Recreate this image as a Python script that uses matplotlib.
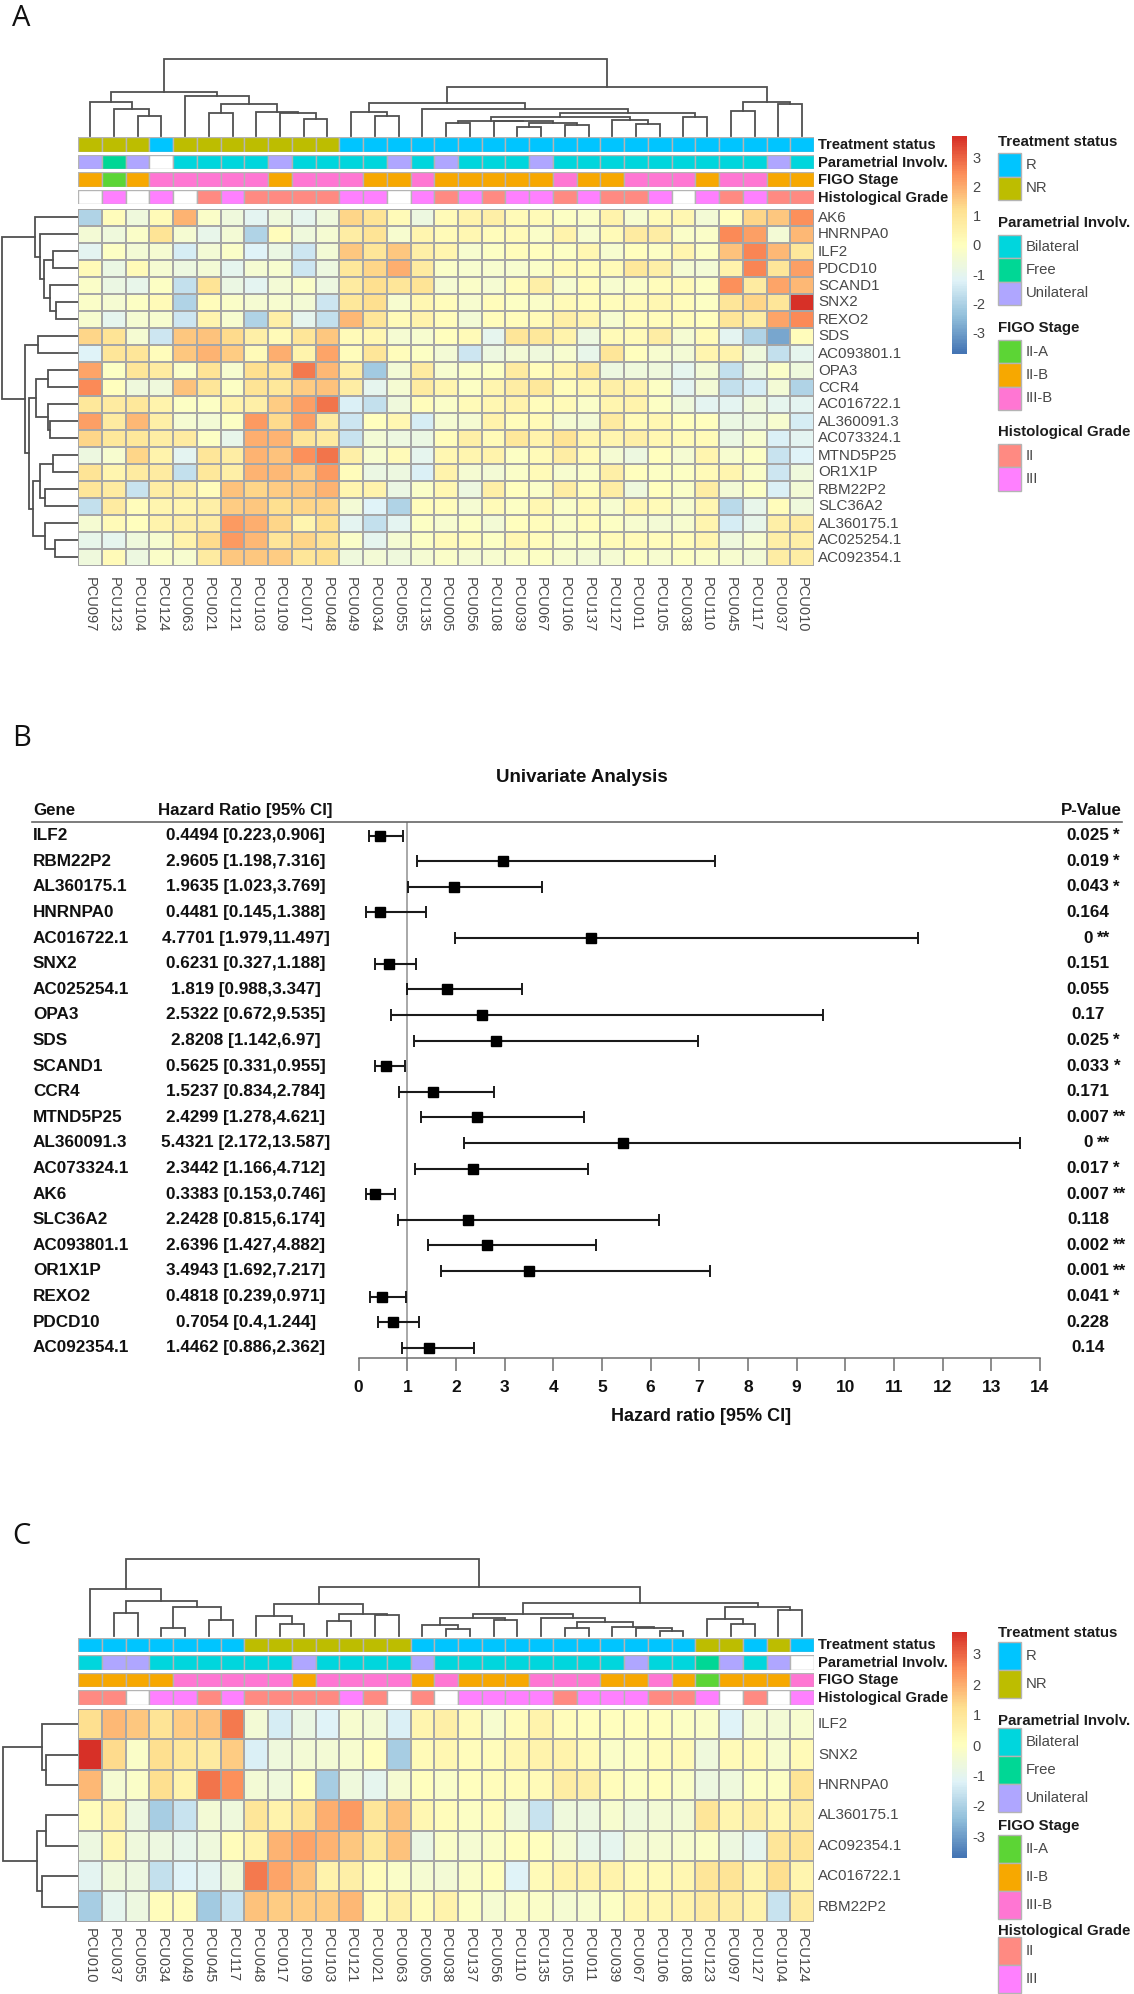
import numpy as np
import matplotlib
matplotlib.use("Agg")
import matplotlib.pyplot as plt
from matplotlib.colors import LinearSegmentedColormap, ListedColormap
from matplotlib.patches import Rectangle
from matplotlib.lines import Line2D

plt.rcParams['font.family'] = ['Liberation Sans', 'DejaVu Sans']
W, H = 1134, 1994

# ---------- Panel A data ----------
samples_a = "PCU097 PCU123 PCU104 PCU124 PCU063 PCU021 PCU121 PCU103 PCU109 PCU017 PCU048 PCU049 PCU034 PCU055 PCU135 PCU005 PCU056 PCU108 PCU039 PCU067 PCU106 PCU137 PCU127 PCU011 PCU105 PCU038 PCU110 PCU045 PCU117 PCU037 PCU010".split()
genes_a = ["AK6","HNRNPA0","ILF2","PDCD10","SCAND1","SNX2","REXO2","SDS","AC093801.1","OPA3","CCR4","AC016722.1","AL360091.3","AC073324.1","MTND5P25","OR1X1P","RBM22P2","SLC36A2","AL360175.1","AC025254.1","AC092354.1"]
heat_a = [
[-2.0,0.1,-0.6,0.2,1.9,-0.2,-0.6,-1.1,-0.6,-1.0,-0.6,1.4,1.1,0.2,-0.7,0.2,0.5,0.6,0.2,0.2,-0.1,-0.2,0.5,-0.3,0.2,0.3,-0.5,0.0,1.4,1.6,2.4],
[-0.5,-0.6,-0.2,1.1,-0.4,-0.9,-0.5,-2.0,0.1,-0.6,-0.4,0.7,1.1,-0.3,0.4,0.2,0.3,0.1,0.2,-0.2,0.5,-0.3,0.2,0.8,0.7,-0.2,-0.2,2.5,2.2,-0.5,1.8],
[-1.1,-0.1,-0.5,-0.4,-1.4,-0.5,-0.2,-1.2,-0.8,-1.5,-0.5,1.6,1.0,1.6,0.6,0.4,-0.3,-0.1,0.1,0.0,-0.1,0.3,-0.3,0.0,-0.1,0.4,-0.1,1.7,2.6,1.8,0.9],
[0.2,-0.8,0.2,-0.4,-0.7,-0.5,-1.0,-0.4,-0.3,-1.5,-0.7,0.9,1.4,2.0,0.8,-0.2,-0.3,-0.3,-0.3,-0.2,0.2,0.1,0.2,0.9,0.6,-0.4,-0.5,0.5,2.6,1.0,2.2],
[-0.2,-0.8,-0.9,-0.1,-1.7,1.1,-0.8,-1.1,-0.5,-0.2,-0.7,0.8,1.2,1.0,1.1,-0.4,-0.2,-0.4,0.1,0.6,-0.3,0.1,-0.3,-0.2,0.1,0.2,-0.1,2.4,0.8,2.1,1.8],
[-0.2,-0.4,-0.1,0.2,-2.0,0.1,-0.2,-0.4,-0.3,-0.5,-1.5,0.9,1.2,-0.3,0.3,0.1,-0.3,0.1,-0.1,-0.2,0.2,0.1,0.1,0.2,0.3,0.1,-0.1,1.0,1.4,1.0,3.7],
[-0.3,-1.0,-0.4,-0.3,-1.5,0.4,-0.3,-2.0,0.6,-1.0,-1.7,1.8,1.0,0.2,0.5,0.1,-0.5,0.1,0.1,0.2,0.6,0.4,-0.3,0.1,0.1,0.1,0.0,1.0,0.7,2.1,2.5],
[1.4,1.1,-0.4,-1.5,1.6,1.7,1.3,0.6,0.2,1.0,1.6,0.2,0.3,-0.4,-0.3,0.0,0.2,-1.0,1.0,0.9,0.5,-0.7,0.2,0.2,0.7,-0.4,0.2,-1.1,-2.0,-2.9,0.1],
[-1.2,1.0,1.0,0.1,1.6,1.9,1.5,0.2,2.0,0.5,2.1,0.1,1.0,0.1,-0.1,-0.5,-1.5,-0.7,-0.5,-0.6,-0.3,-0.9,1.0,0.0,-0.3,-0.5,0.4,0.5,-0.6,-1.7,-1.0],
[2.1,-0.1,1.0,0.8,-0.2,1.1,-0.3,1.2,1.1,2.7,1.8,0.7,-2.2,-0.5,0.8,-0.3,-0.2,-0.1,0.8,0.1,0.4,0.9,-0.7,-0.6,-0.6,-1.0,-0.5,-1.7,-0.7,-0.2,-0.6],
[2.5,0.0,-0.6,-0.6,1.7,1.0,-0.1,1.1,0.9,1.5,1.7,0.7,-1.0,-0.4,0.8,0.4,-0.1,0.4,0.7,0.9,0.1,0.3,0.6,0.5,-0.1,-1.1,-0.5,-1.7,-1.4,-0.5,-2.0],
[0.9,0.8,0.9,0.5,-0.1,-0.1,0.5,0.6,1.5,2.2,2.8,-1.3,-1.7,-0.6,0.1,-0.2,0.2,0.3,0.5,0.1,0.2,-0.2,0.4,0.5,-0.1,-0.6,-1.1,-1.1,-0.6,-1.0,-1.1],
[2.2,0.8,1.8,0.6,-0.4,-0.5,-0.1,2.3,1.3,2.2,0.8,-1.5,0.0,0.3,-1.4,-0.4,-0.4,0.5,0.1,0.2,-0.4,-0.5,0.8,0.2,0.3,0.0,0.0,-0.8,-0.7,-0.3,-1.4],
[1.4,0.9,0.9,0.7,0.8,-0.1,-0.9,2.0,1.9,1.0,0.8,-1.6,-0.5,-0.7,-0.8,0.1,0.6,0.2,0.9,0.5,1.1,0.4,0.4,0.6,0.3,0.2,0.2,-0.8,-0.3,-1.3,-1.1],
[-0.7,-0.3,1.4,0.5,-1.1,1.0,0.7,1.9,1.7,2.4,2.8,0.6,-0.3,0.2,-1.0,0.3,0.4,0.5,-0.1,0.2,0.7,0.2,-0.4,-0.7,0.0,-0.4,0.4,-0.3,-0.1,-1.6,-1.2],
[1.1,0.4,0.8,0.8,-1.7,0.9,0.6,1.9,1.8,1.5,2.3,0.1,-0.8,-0.7,-1.3,0.5,-0.4,-0.5,-0.2,0.2,-0.3,-0.2,0.6,0.0,-0.1,-0.1,0.2,0.4,-0.2,-1.5,-0.6],
[1.0,0.8,-1.6,0.7,0.6,0.1,1.7,1.4,1.5,1.6,1.9,0.4,0.5,-0.8,-0.2,0.3,-0.7,0.6,0.0,-0.2,0.7,0.1,0.7,-0.6,0.0,-0.2,0.7,-0.5,-0.1,-1.3,-0.5],
[-1.7,0.8,0.1,0.4,0.4,0.6,1.5,1.6,1.2,1.4,1.4,-0.5,-1.2,-2.0,0.1,0.1,-0.4,0.2,-0.1,0.3,-0.2,0.2,-0.3,0.3,0.2,-0.3,0.3,-1.8,-0.9,0.1,-0.6],
[-0.4,0.2,0.0,0.5,0.6,0.7,2.3,2.0,1.4,0.4,1.2,-1.1,-1.7,-1.1,-0.1,-0.3,-0.1,-0.5,0.0,0.1,-0.2,0.1,-0.1,-0.3,-0.5,-0.3,0.4,-1.4,-0.9,0.6,0.8],
[-0.9,-1.0,-0.6,-0.3,0.5,1.3,2.3,1.8,1.0,1.4,1.1,-0.2,-1.0,-0.4,-0.1,0.2,0.1,-0.1,0.3,0.1,-0.2,-0.1,0.2,0.2,0.1,0.1,0.4,-0.6,-0.3,0.6,0.6],
[-0.6,0.2,-0.7,-0.2,-0.3,0.8,1.6,1.6,1.5,1.0,1.2,-0.6,-0.5,-0.6,-0.4,-0.2,-0.4,-0.3,-0.2,-0.1,-0.3,-0.5,-0.4,-0.1,-0.3,-0.1,-0.2,-0.3,-0.5,0.7,0.7],
]
treat_a = "NR NR NR R NR NR NR NR NR NR NR R R R R R R R R R R R R R R R R R R R R".split()
param_a = "U F U NA B B B B U B B B B U B U B B B U B B B B B B B B B U B".split()
figo_a = "IIB IIA IIB IIIB IIIB IIIB IIIB IIIB IIB IIIB IIIB IIIB IIB IIB IIIB IIB IIB IIB IIB IIB IIIB IIB IIB IIIB IIIB IIIB IIB IIIB IIIB IIB IIB".split()
grade_a = "NA III NA III NA II III II II II II III III NA III II III II III III II III II II III NA III II III II II".split()
# dendrograms: (height, left, right), leaves are column / row indices
coltree_a = (77,
    (43.7, (34.3, 0, (27, 1, (20, 2, 3))),
           (40.3, 4, (32, (22.7, 5, 6), (24.3, 7, (22.7, 8, (16.7, 9, 10)))))),
    (49.3, (33.3, (24.3, 11, (20, 12, 13)),
                  (27.3, 14, (22.7, (18.5, (15.3, (12.7, 15, 16),
                                            (14.7, 17, (13.3, (8.7, 18, 19), (11, 20, 21)))),
                                     (16, 22, (12, 23, 24))),
                              (19.3, 25, 26)))),
           (34.3, (25.3, 27, 28), (32, 29, 30))))
rowtree_a = (76.3,
    (43.4, 0, (38.3, 1, (34, (25.7, 2, 3), (27.8, 4, (22.7, 5, 6))))),
    (53, (40.4, 7, 8),
         (48.8, (42.5, (29.9, 9, 10), (30.7, 11, (28.6, 12, 13))),
                (45, (38.3, (25.7, 14, 15), (32.8, 16, 17)),
                     (33, 18, (23, 19, 20))))))

# ---------- Panel B data ----------
fp_genes = ["ILF2","RBM22P2","AL360175.1","HNRNPA0","AC016722.1","SNX2","AC025254.1","OPA3","SDS","SCAND1","CCR4","MTND5P25","AL360091.3","AC073324.1","AK6","SLC36A2","AC093801.1","OR1X1P","REXO2","PDCD10","AC092354.1"]
fp_hr = [0.4494,2.9605,1.9635,0.4481,4.7701,0.6231,1.819,2.5322,2.8208,0.5625,1.5237,2.4299,5.4321,2.3442,0.3383,2.2428,2.6396,3.4943,0.4818,0.7054,1.4462]
fp_lo = [0.223,1.198,1.023,0.145,1.979,0.327,0.988,0.672,1.142,0.331,0.834,1.278,2.172,1.166,0.153,0.815,1.427,1.692,0.239,0.4,0.886]
fp_hi = [0.906,7.316,3.769,1.388,11.497,1.188,3.347,9.535,6.97,0.955,2.784,4.621,13.587,4.712,0.746,6.174,4.882,7.217,0.971,1.244,2.362]
fp_p = ["0.025","0.019","0.043","0.164","0","0.151","0.055","0.17","0.025","0.033","0.171","0.007","0","0.017","0.007","0.118","0.002","0.001","0.041","0.228","0.14"]
fp_star = ["*","*","*","","**","","","","*","*","","**","**","*","**","","**","**","*","",""]

# ---------- Panel C data ----------
samples_c = "PCU010 PCU037 PCU055 PCU034 PCU049 PCU045 PCU117 PCU048 PCU017 PCU109 PCU103 PCU121 PCU021 PCU063 PCU005 PCU038 PCU137 PCU056 PCU110 PCU135 PCU105 PCU011 PCU039 PCU067 PCU106 PCU108 PCU123 PCU097 PCU127 PCU104 PCU124".split()
genes_c = ["ILF2","SNX2","HNRNPA0","AL360175.1","AC092354.1","AC016722.1","RBM22P2"]
heat_c = [
[1.2,1.8,1.6,1.1,1.5,1.7,2.7,-0.5,-1.4,-0.8,-1.2,-0.3,-0.5,-1.3,0.4,0.6,0.2,-0.3,0.1,0.5,0.1,0.0,0.0,0.0,0.0,-0.1,-0.2,-1.2,-0.4,-0.5,-0.3],
[3.7,1.3,-0.2,1.2,0.9,0.8,1.5,-1.3,-0.6,-0.5,-0.5,-0.3,0.0,-2.1,0.2,0.3,0.1,0.1,0.3,0.5,0.5,0.2,-0.2,-0.1,0.1,0.2,-0.6,0.2,0.2,-0.3,0.2],
[1.8,-0.4,-0.2,1.2,0.5,2.8,2.4,-0.5,-0.6,0.0,-2.1,-0.6,-1.0,-0.4,0.0,-0.2,0.0,0.1,0.1,0.2,0.7,0.6,0.1,-0.1,0.0,-0.2,-0.7,-0.6,-0.1,-0.1,1.1],
[0.1,0.5,-0.7,-2.1,-1.6,-0.5,-0.6,1.0,0.5,1.1,2.0,2.3,1.0,1.7,0.3,0.1,-0.1,0.1,-0.6,-1.6,-0.6,-0.7,-0.3,-0.6,-0.5,-0.5,1.0,0.4,0.6,0.3,0.7],
[-0.7,0.3,-0.6,-0.7,-0.9,-0.6,0.1,0.5,1.9,2.1,1.9,1.6,0.9,1.7,-0.8,-0.2,-0.4,-0.2,0.0,0.0,-0.4,-0.9,-1.0,-0.5,-0.4,-0.3,-0.2,-0.7,-1.0,1.0,1.1],
[-1.1,-0.6,-0.7,-1.7,-1.2,-1.1,-0.6,2.7,2.1,1.7,0.5,0.6,0.1,-0.2,-0.4,-0.5,-0.2,0.0,-1.2,0.2,0.5,0.5,0.5,0.2,0.2,0.3,1.0,1.1,0.4,1.2,0.4],
[-2.1,-1.0,-0.7,0.1,0.1,-2.2,-1.6,1.7,1.5,1.5,1.5,1.8,0.2,0.6,0.1,0.5,-0.1,-0.4,-0.2,-0.2,-0.4,-0.3,-0.1,0.3,0.3,0.5,0.8,0.7,0.5,-1.6,0.8],
]
treat_c = "R R R R R R R NR NR NR NR NR NR NR R R R R R R R R R R R R NR NR R NR R".split()
param_c = "B U U B B B B B B U B B B B U B B B B B B B B U B B F U B U NA".split()
figo_c = "IIB IIB IIB IIB IIIB IIIB IIIB IIIB IIIB IIB IIIB IIIB IIIB IIIB IIB IIIB IIB IIB IIB IIIB IIIB IIIB IIB IIB IIIB IIB IIA IIB IIB IIB IIIB".split()
grade_c = "II II NA III III II III II II II II III II NA II NA III III III III II III III III II II III NA II NA III".split()
coltree_c = (76.7,
    (46.7, 0, (35, (23, 1, 2), (29, (7.3, 3, 4), (16, 5, 6)))),
    (48.3, (31.3, (20, 7, (11.7, 8, 9)), (21.7, (14.7, 10, 11), (20.7, 12, 13))),
           (32.3, (21.3, (18, (10.7, 14, (6.7, 15, 16)), (15.3, 17, 18)),
                         (18, 19, (13.3, (7.3, 20, 21), (8.7, 22, (7.3, 23, (4.7, 24, 25)))))),
                  (28.3, (16.7, 26, (11.3, 27, 28)), (25.7, 29, 30)))))
rowtree_c = (75.7, (36, 0, (31.8, 1, 2)), (41.3, (31.8, 3, 4), (36, 5, 6)))

# ---------- Shared categories ----------
annot_names = ["Treatment status", "Parametrial Involv.", "FIGO Stage", "Histological Grade"]
legend_levels = [["R", "NR"], ["Bilateral", "Free", "Unilateral"], ["II-A", "II-B", "III-B"], ["II", "III"]]
legend_codes = [["R", "NR"], ["B", "F", "U"], ["IIA", "IIB", "IIIB"], ["II", "III"]]
cat_colors = {"R": "#00C5FF", "NR": "#BDBD00", "B": "#00D6DD", "F": "#00D795", "U": "#AFA6FF",
              "IIA": "#5CD535", "IIB": "#F7A800", "IIIB": "#FF76D3", "II": "#FF8A82", "III": "#FF80FF", "NA": "#FFFFFF"}
cb_ticks = [3, 2, 1, 0, -1, -2, -3]
vmax = 3.72
cmap = LinearSegmentedColormap.from_list("rdylbu", ["#4575B4", "#91BFDB", "#E0F3F8", "#FFFFBF", "#FEE090", "#FC8D59", "#D73027"], N=100)

fig = plt.figure(figsize=(W / 100, H / 100), dpi=100, facecolor="white")
GRID = "#A6A6A6"
TXT = "#484848"

def axpx(x0, y0, x1, y1):
    a = fig.add_axes([x0 / W, 1 - y1 / H, (x1 - x0) / W, (y1 - y0) / H])
    return a

def ftext(x, y, s, **kw):
    kw.setdefault("va", "center")
    return fig.text(x / W, 1 - y / H, s, **kw)

def draw_tree(ax, node, horizontal_root_top=True):
    if not isinstance(node, tuple):
        return node + 0.5, 0.0
    h, l, r = node
    pl, hl = draw_tree(ax, l, horizontal_root_top)
    pr, hr = draw_tree(ax, r, horizontal_root_top)
    xs, ys = [pl, pl, pr, pr], [hl, h, h, hr]
    if horizontal_root_top:
        ax.plot(xs, ys, color="#505050", lw=1.3, solid_joinstyle="miter", clip_on=False)
    else:
        ax.plot(ys, xs, color="#505050", lw=1.3, solid_joinstyle="miter", clip_on=False)
    return (pl + pr) / 2, h

def heat_panel(x0, x1, annot_top, annot_h, annot_gap, heat_top, heat_bot, dend_base, col_top_px, values,
               genes, samples, annots, ctree, rtree, label_top, cb_top, cb_bot):
    n_r, n_c = len(genes), len(samples)
    # column dendrogram
    a = axpx(x0, dend_base - 80, x1, dend_base)
    a.set_xlim(0, n_c); a.set_ylim(0, 80); a.axis("off")
    draw_tree(a, ctree, True)
    # row dendrogram
    a = axpx(0, heat_top, x0, heat_bot)
    a.set_xlim(x0, 0); a.set_ylim(n_r, 0); a.axis("off")
    draw_tree(a, rtree, False)
    # annotations
    for i, (nm, lev) in enumerate(zip(annot_names, annots)):
        t = annot_top + i * (annot_h + annot_gap)
        a = axpx(x0, t, x1, t + annot_h)
        for c, code in enumerate(lev):
            a.add_patch(Rectangle((c, 0), 1, 1, facecolor=cat_colors[code], edgecolor="#B4B4B4", lw=1.0))
        a.set_xlim(0, n_c); a.set_ylim(0, 1); a.axis("off")
        ftext(x1 + 4, t + annot_h / 2 + 0.5, nm, fontsize=10.6, fontweight="bold", color="#1c1c1c")
    # heatmap
    a = axpx(x0, heat_top, x1, heat_bot)
    a.pcolormesh(np.arange(n_c + 1), np.arange(n_r + 1), np.array(values), cmap=cmap, vmin=-vmax, vmax=vmax,
                 edgecolors=GRID, linewidth=1.1)
    a.set_xlim(0, n_c); a.set_ylim(n_r, 0)
    a.set_xticks([]); a.set_yticks([])
    for s in a.spines.values():
        s.set_visible(False)
    rh = (heat_bot - heat_top) / n_r
    cw = (x1 - x0) / n_c
    for r, g in enumerate(genes):
        ftext(x1 + 4, heat_top + (r + 0.5) * rh, g, fontsize=10.9, color=TXT)
    for c, s in enumerate(samples):
        ftext(x0 + (c + 0.5) * cw, label_top, s, rotation=270, ha="center", va="top", fontsize=10.5, color=TXT)
    # colour bar
    a = axpx(952, cb_top, 967, cb_bot)
    grad = np.linspace(vmax, -vmax, 256).reshape(-1, 1)
    a.imshow(grad, cmap=cmap, vmin=-vmax, vmax=vmax, aspect="auto", extent=[0, 1, -vmax, vmax])
    a.set_xticks([])
    a.yaxis.tick_right()
    a.set_yticks(cb_ticks)
    a.set_yticklabels([str(t) for t in cb_ticks], fontsize=10.5, color=TXT)
    a.tick_params(axis="y", length=0, pad=4)
    for s in a.spines.values():
        s.set_visible(False)

def legend_block(title_ys, box_tops, pitch):
    for name, lev, codes, ty, bt in zip(annot_names, legend_levels, legend_codes, title_ys, box_tops):
        ftext(997.5, ty, name, fontsize=10.8, fontweight="bold", color="#1c1c1c")
        for i, (lb, cd) in enumerate(zip(lev, codes)):
            y = bt + i * pitch
            fig.add_artist(Rectangle((997.5 / W, 1 - (y + pitch) / H), 23.5 / W, pitch / H,
                                     transform=fig.transFigure, facecolor=cat_colors[cd], edgecolor="#B4B4B4", lw=1))
            ftext(1025.7, y + pitch / 2, lb, fontsize=10.7, color=TXT)

# ---------- Panel A ----------
heat_panel(78.3, 814, 137.5, 14.5, 3, 209, 566, 136, 59, heat_a, genes_a, samples_a,
           [treat_a, param_a, figo_a, grade_a], coltree_a, rowtree_a, 577, 136, 354)
legend_block([142, 223, 328, 432], [153.3, 235, 340, 444], 23.3)

# ---------- Panel C ----------
heat_panel(78.3, 814, 1637.7, 14.5, 3, 1709, 1921.7, 1635.7, 1559, heat_c, genes_c, samples_c,
           [treat_c, param_c, figo_c, grade_c], coltree_c, rowtree_c, 1928, 1632, 1858)
legend_block([1633, 1721, 1826, 1931], [1642, 1728, 1835, 1937], 28)

# ---------- Panel B ----------
row0, pitch = 835.7, 25.6
axis_top, axis_bot = 822.3, 1358
ax = axpx(358.6, axis_top, 1040, axis_bot)
ax.set_xlim(0, 14)
ax.set_ylim((axis_bot - row0) / pitch, (axis_top - row0) / pitch)
ax.patch.set_alpha(0)
ys = np.arange(len(fp_genes))
ax.axvline(1, color="#9a9a9a", lw=1.2, zorder=1)
ax.errorbar(fp_hr, ys,
            xerr=[np.array(fp_hr) - np.array(fp_lo), np.array(fp_hi) - np.array(fp_hr)],
            fmt="none", ecolor="#1a1a1a", elinewidth=1.5, capsize=4.4, capthick=1.4, zorder=2)
ax.plot(fp_hr, ys, "s", color="black", ms=7, zorder=3)
for s in ("top", "left", "right"):
    ax.spines[s].set_visible(False)
ax.spines["bottom"].set_color("#6e6e6e")
ax.spines["bottom"].set_linewidth(1.1)
ax.set_yticks([])
ax.set_xticks(range(0, 15))
ax.tick_params(axis="x", length=9, width=1.1, color="#6e6e6e", pad=7, labelsize=12.5)
for t in ax.get_xticklabels():
    t.set_fontweight("bold")
    t.set_color("#111111")
ftext(701, 1416, "Hazard ratio [95% CI]", ha="center", fontsize=13, fontweight="bold", color="#111111")
ftext(496, 777, "Univariate Analysis", ha="left", fontsize=13.5, fontweight="bold", color="#111111")
ftext(33, 810, "Gene", fontsize=12.2, fontweight="bold", color="#111111")
ftext(245, 810, "Hazard Ratio [95% CI]", ha="center", fontsize=12.2, fontweight="bold", color="#111111")
ftext(1122, 810, "P-Value", ha="right", fontsize=12.2, fontweight="bold", color="#111111")
fig.add_artist(Line2D([32 / W, 1122 / W], [1 - axis_top / H] * 2, color="#666666", lw=1.2))
fig.canvas.draw()
rend = fig.canvas.get_renderer()
for i, g in enumerate(fp_genes):
    y = row0 + i * pitch
    ftext(33, y, g, fontsize=12.3, fontweight="bold", color="#111111")
    ftext(246, y, f"{fp_hr[i]:g} [{fp_lo[i]:g},{fp_hi[i]:g}]", ha="center", fontsize=12.3, fontweight="bold", color="#111111")
    t = ftext(1088, y, fp_p[i], ha="center", fontsize=12.3, fontweight="bold", color="#111111")
    if fp_star[i]:
        bb = t.get_window_extent(rend)
        ftext(bb.x1 + 4, y, fp_star[i], ha="left", fontsize=12.3, fontweight="bold", color="#111111")

# ---------- Panel letters ----------
for letter, y in zip("ABC", [19, 738, 1536]):
    ftext(12.5, y, letter, fontsize=21, family=["Open Sans", "DejaVu Sans"], color="#111111")

fig.savefig("out.png", dpi=100, facecolor="white")
